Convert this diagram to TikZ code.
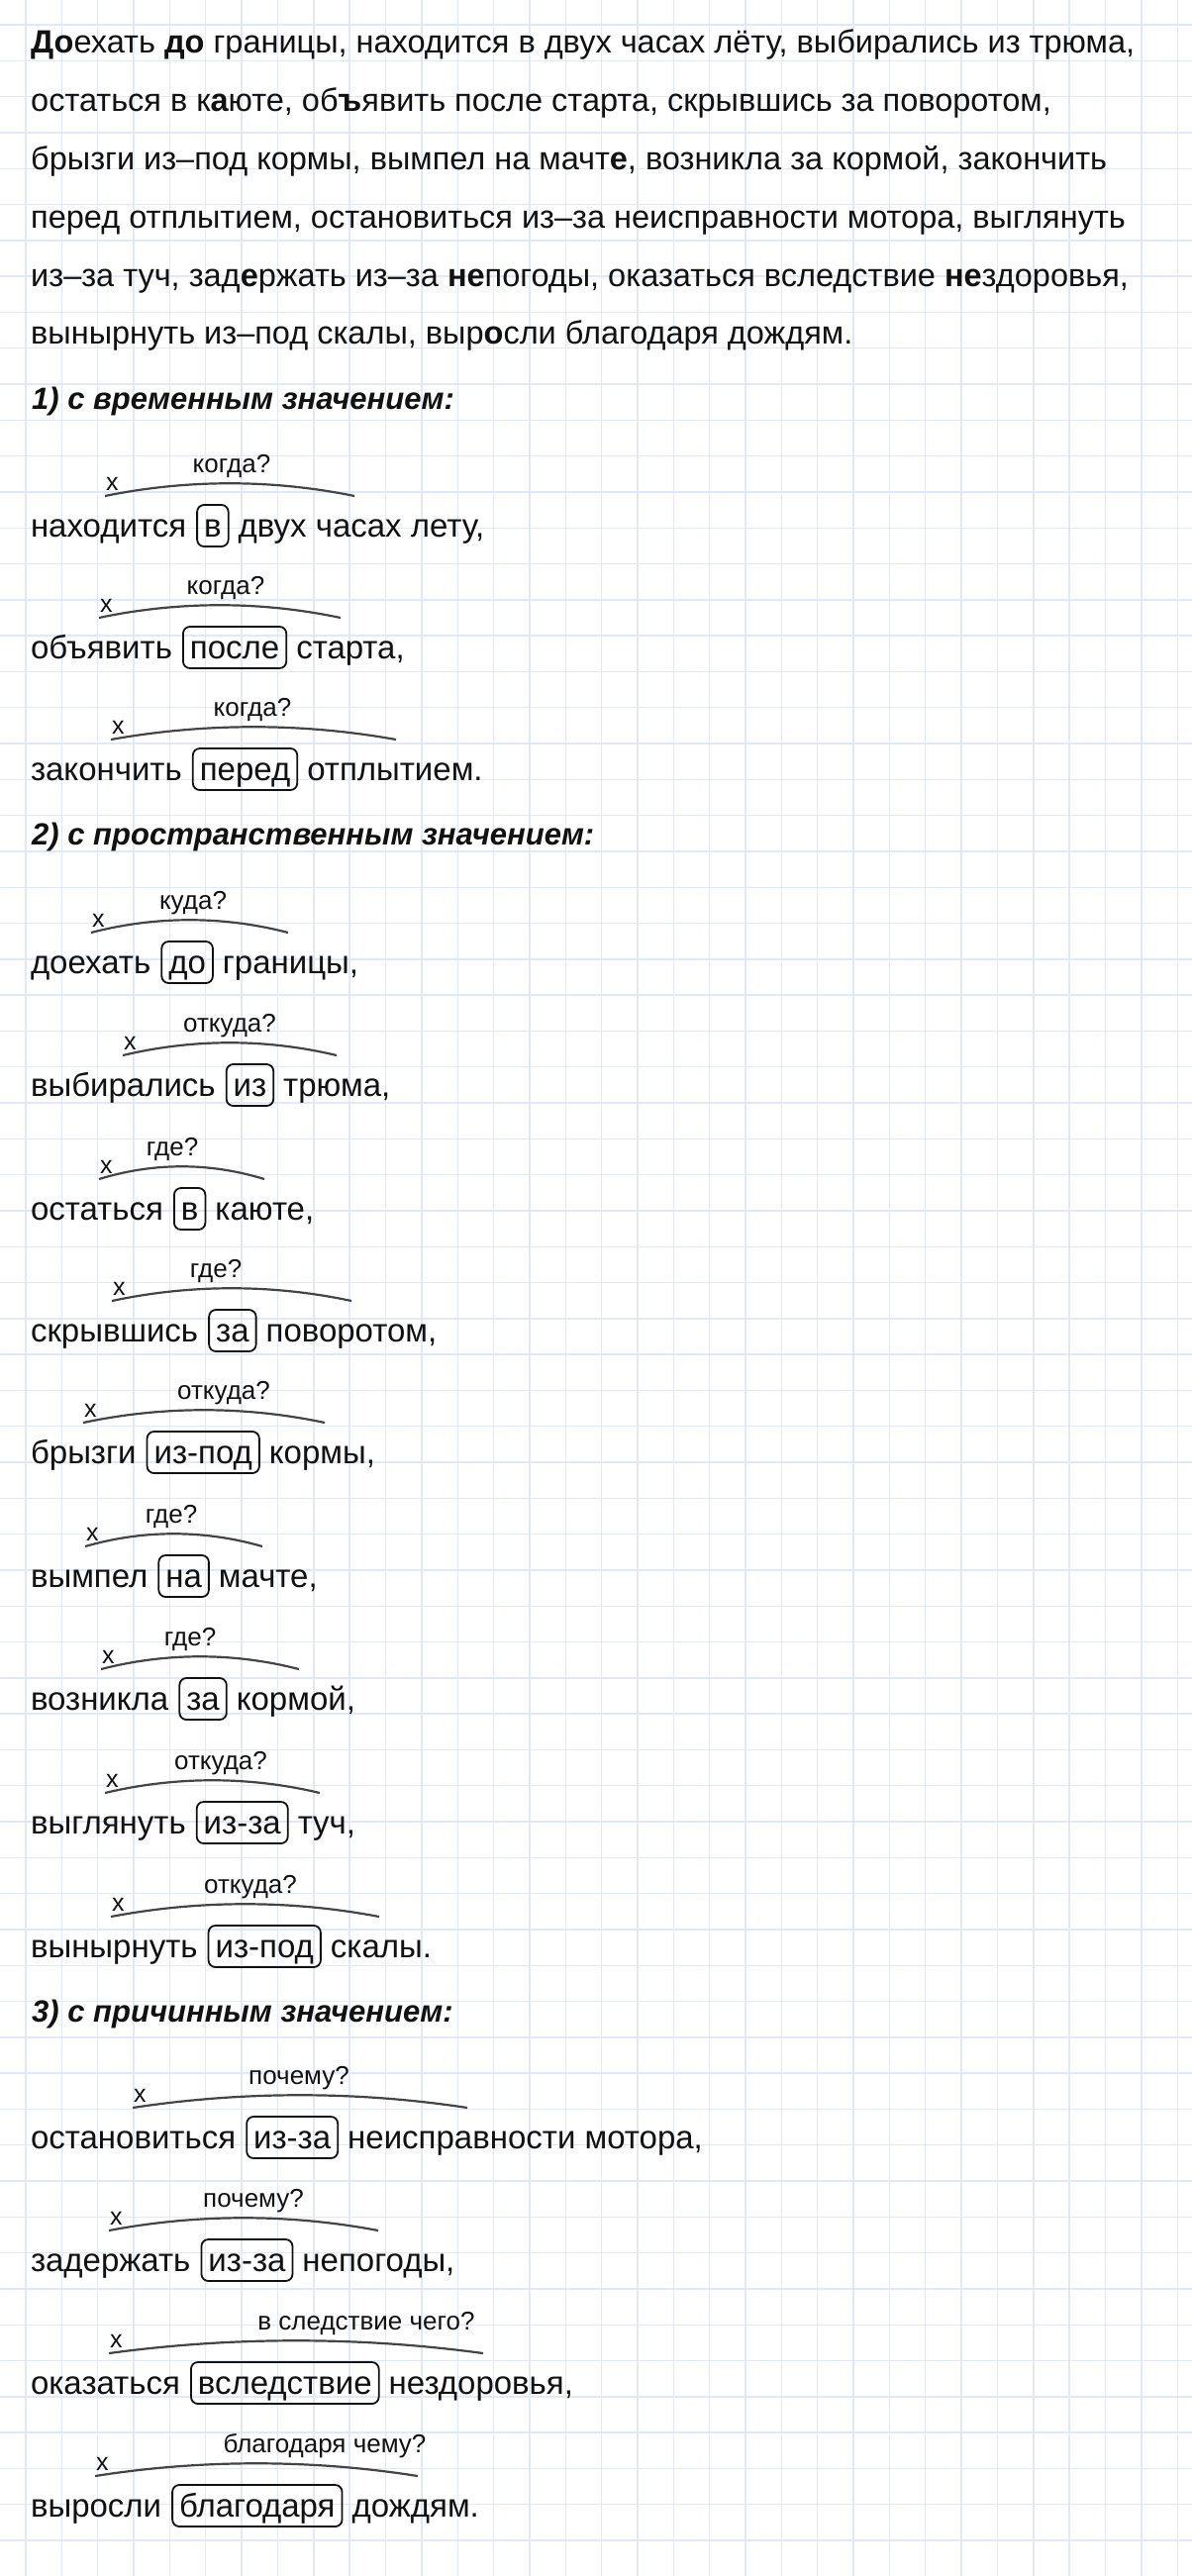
\documentclass[tikz,border=0pt]{standalone}
\usepackage{fontspec}
\setmainfont{Liberation Sans}
\usetikzlibrary{positioning,calc}
\definecolor{gridblue}{RGB}{224,233,248}
\definecolor{arcgrey}{RGB}{68,68,68}
\definecolor{inkblack}{RGB}{17,17,17}

\tikzset{
  gridline/.style={draw=gridblue, line width=1.4pt},
  paraline/.style={inner sep=0pt, anchor=base west, text=inkblack, font=\fontsize{32.5}{38}\selectfont},
  heading/.style={inner sep=0pt, anchor=base west, text=inkblack, font=\fontsize{31}{36}\selectfont\bfseries\itshape},
  word/.style={inner sep=0pt, outer sep=0pt, anchor=base west, text=inkblack, font=\fontsize{33}{38}\selectfont},
  prepbox/.style={draw=inkblack, line width=1.8pt, rounded corners=7pt, outer sep=0pt, inner xsep=7pt, inner ysep=2pt, text height=30pt, text depth=8pt, text=inkblack, font=\fontsize{33}{38}\selectfont},
  question/.style={inner sep=0pt, anchor=base, text=inkblack, font=\fontsize{26}{30}\selectfont},
  xsign/.style={inner sep=0pt, anchor=base west, text=inkblack, font=\fontsize{25}{28}\selectfont},
  arcline/.style={draw=arcgrey, line width=2.2pt},
  hump/.style={to path={.. controls ($(\tikztostart)!0.33!(\tikztotarget)+(0,-17)$) and ($(\tikztostart)!0.67!(\tikztotarget)+(0,-17)$) .. (\tikztotarget)}}
}

\begin{document}
\begin{tikzpicture}[x=1pt,y=-1pt]
\useasboundingbox[fill=white] (0,0) rectangle (1204,2602);
% grid paper
\foreach \i in {0,...,32} \draw[gridline] (26+36.35*\i,0) -- (26+36.35*\i,2602);
\foreach \j in {0,...,70} \draw[gridline] (0,25+36.3*\j) -- (1204,25+36.3*\j);

% task text
\node[paraline] (par1) at (31,53) {{\bfseries До}ехать {\bfseries до} границы, находится в двух часах лёту, выбирались из трюма,};
\node[paraline] (par2) at (31,112) {остаться в к{\bfseries а}юте, об{\bfseries ъ}явить после старта, скрывшись за поворотом,};
\node[paraline] (par3) at (31,171) {брызги из–под кормы, вымпел на мачт{\bfseries е}, возникла за кормой, закончить};
\node[paraline] (par4) at (31,230) {перед отплытием, остановиться из–за неисправности мотора, выглянуть};
\node[paraline] (par5) at (31,289) {из–за туч, зад{\bfseries е}ржать из–за {\bfseries не}погоды, оказаться вследствие {\bfseries не}здоровья,};
\node[paraline] (par6) at (31,347) {вынырнуть из–под скалы, выр{\bfseries о}сли благодаря дождям.};

% 1) time
\node[heading] (head1) at (32,413) {1) с временным значением:};

\node[word] (w1) at (31,542) {находится};
\node[prepbox, base right=11pt of w1] (b1) {в};
\node[word, base right=10pt of b1] (t1) {двух часах лету,};
\coordinate (a1) at (106,501); \coordinate (e1) at (358,501);
\draw[arcline] (a1) to[hump] (e1);
\node[xsign] (x1) at (107,495) {x};
\node[question] (q1) at (234,477) {когда?};

\node[word] (w2) at (31,665) {объявить};
\node[prepbox, base right=11pt of w2] (b2) {после};
\node[word, base right=10pt of b2] (t2) {старта,};
\coordinate (a2) at (100,624); \coordinate (e2) at (344,624);
\draw[arcline] (a2) to[hump] (e2);
\node[xsign] (x2) at (101,618) {x};
\node[question] (q2) at (228,600) {когда?};

\node[word] (w3) at (31,788) {закончить};
\node[prepbox, base right=11pt of w3] (b3) {перед};
\node[word, base right=10pt of b3] (t3) {отплытием.};
\coordinate (a3) at (112,747); \coordinate (e3) at (400,747);
\draw[arcline] (a3) to[hump] (e3);
\node[xsign] (x3) at (113,741) {x};
\node[question] (q3) at (255,723) {когда?};

% 2) place
\node[heading] (head2) at (32,853) {2) с пространственным значением:};

\node[word] (w4) at (31,983) {доехать};
\node[prepbox, base right=11pt of w4] (b4) {до};
\node[word, base right=10pt of b4] (t4) {границы,};
\coordinate (a4) at (92,942); \coordinate (e4) at (291,942);
\draw[arcline] (a4) to[hump] (e4);
\node[xsign] (x4) at (93,936) {x};
\node[question] (q4) at (195,918) {куда?};

\node[word] (w5) at (31,1107) {выбирались};
\node[prepbox, base right=11pt of w5] (b5) {из};
\node[word, base right=10pt of b5] (t5) {трюма,};
\coordinate (a5) at (124,1066); \coordinate (e5) at (340,1066);
\draw[arcline] (a5) to[hump] (e5);
\node[xsign] (x5) at (125,1060) {x};
\node[question] (q5) at (232,1042) {откуда?};

\node[word] (w6) at (31,1232) {остаться};
\node[prepbox, base right=11pt of w6] (b6) {в};
\node[word, base right=10pt of b6] (t6) {каюте,};
\coordinate (a6) at (100,1191); \coordinate (e6) at (267,1191);
\draw[arcline] (a6) to[hump] (e6);
\node[xsign] (x6) at (101,1185) {x};
\node[question] (q6) at (174,1167) {где?};

\node[word] (w7) at (31,1355) {скрывшись};
\node[prepbox, base right=11pt of w7] (b7) {за};
\node[word, base right=10pt of b7] (t7) {поворотом,};
\coordinate (a7) at (113,1314); \coordinate (e7) at (355,1314);
\draw[arcline] (a7) to[hump] (e7);
\node[xsign] (x7) at (114,1308) {x};
\node[question] (q7) at (218,1290) {где?};

\node[word] (w8) at (31,1478) {брызги};
\node[prepbox, base right=11pt of w8] (b8) {из-под};
\node[word, base right=10pt of b8] (t8) {кормы,};
\coordinate (a8) at (84,1437); \coordinate (e8) at (328,1437);
\draw[arcline] (a8) to[hump] (e8);
\node[xsign] (x8) at (85,1431) {x};
\node[question] (q8) at (226,1413) {откуда?};

\node[word] (w9) at (31,1603) {вымпел};
\node[prepbox, base right=11pt of w9] (b9) {на};
\node[word, base right=10pt of b9] (t9) {мачте,};
\coordinate (a9) at (86,1562); \coordinate (e9) at (265,1562);
\draw[arcline] (a9) to[hump] (e9);
\node[xsign] (x9) at (87,1556) {x};
\node[question] (q9) at (173,1538) {где?};

\node[word] (w10) at (31,1727) {возникла};
\node[prepbox, base right=11pt of w10] (b10) {за};
\node[word, base right=10pt of b10] (t10) {кормой,};
\coordinate (a10) at (102,1686); \coordinate (e10) at (302,1686);
\draw[arcline] (a10) to[hump] (e10);
\node[xsign] (x10) at (103,1680) {x};
\node[question] (q10) at (192,1662) {где?};

\node[word] (w11) at (31,1852) {выглянуть};
\node[prepbox, base right=11pt of w11] (b11) {из-за};
\node[word, base right=10pt of b11] (t11) {туч,};
\coordinate (a11) at (106,1811); \coordinate (e11) at (323,1811);
\draw[arcline] (a11) to[hump] (e11);
\node[xsign] (x11) at (107,1805) {x};
\node[question] (q11) at (223,1787) {откуда?};

\node[word] (w12) at (31,1977) {вынырнуть};
\node[prepbox, base right=11pt of w12] (b12) {из-под};
\node[word, base right=10pt of b12] (t12) {скалы.};
\coordinate (a12) at (112,1936); \coordinate (e12) at (383,1936);
\draw[arcline] (a12) to[hump] (e12);
\node[xsign] (x12) at (113,1930) {x};
\node[question] (q12) at (253,1912) {откуда?};

% 3) cause
\node[heading] (head3) at (32,2042) {3) с причинным значением:};

\node[word] (w13) at (31,2170) {остановиться};
\node[prepbox, base right=11pt of w13] (b13) {из-за};
\node[word, base right=10pt of b13] (t13) {неисправности мотора,};
\coordinate (a13) at (134,2129); \coordinate (e13) at (472,2129);
\draw[arcline] (a13) to[hump] (e13);
\node[xsign] (x13) at (135,2123) {x};
\node[question] (q13) at (302,2105) {почему?};

\node[word] (w14) at (31,2294) {задержать};
\node[prepbox, base right=11pt of w14] (b14) {из-за};
\node[word, base right=10pt of b14] (t14) {непогоды,};
\coordinate (a14) at (110,2253); \coordinate (e14) at (382,2253);
\draw[arcline] (a14) to[hump] (e14);
\node[xsign] (x14) at (111,2247) {x};
\node[question] (q14) at (256,2229) {почему?};

\node[word] (w15) at (31,2418) {оказаться};
\node[prepbox, base right=11pt of w15] (b15) {вследствие};
\node[word, base right=10pt of b15] (t15) {нездоровья,};
\coordinate (a15) at (110,2377); \coordinate (e15) at (488,2377);
\draw[arcline] (a15) to[hump] (e15);
\node[xsign] (x15) at (111,2371) {x};
\node[question] (q15) at (370,2353) {в следствие чего?};

\node[word] (w16) at (31,2542) {выросли};
\node[prepbox, base right=11pt of w16] (b16) {благодаря};
\node[word, base right=10pt of b16] (t16) {дождям.};
\coordinate (a16) at (96,2501); \coordinate (e16) at (422,2501);
\draw[arcline] (a16) to[hump] (e16);
\node[xsign] (x16) at (97,2495) {x};
\node[question] (q16) at (328,2477) {благодаря чему?};
\end{tikzpicture}
\end{document}
